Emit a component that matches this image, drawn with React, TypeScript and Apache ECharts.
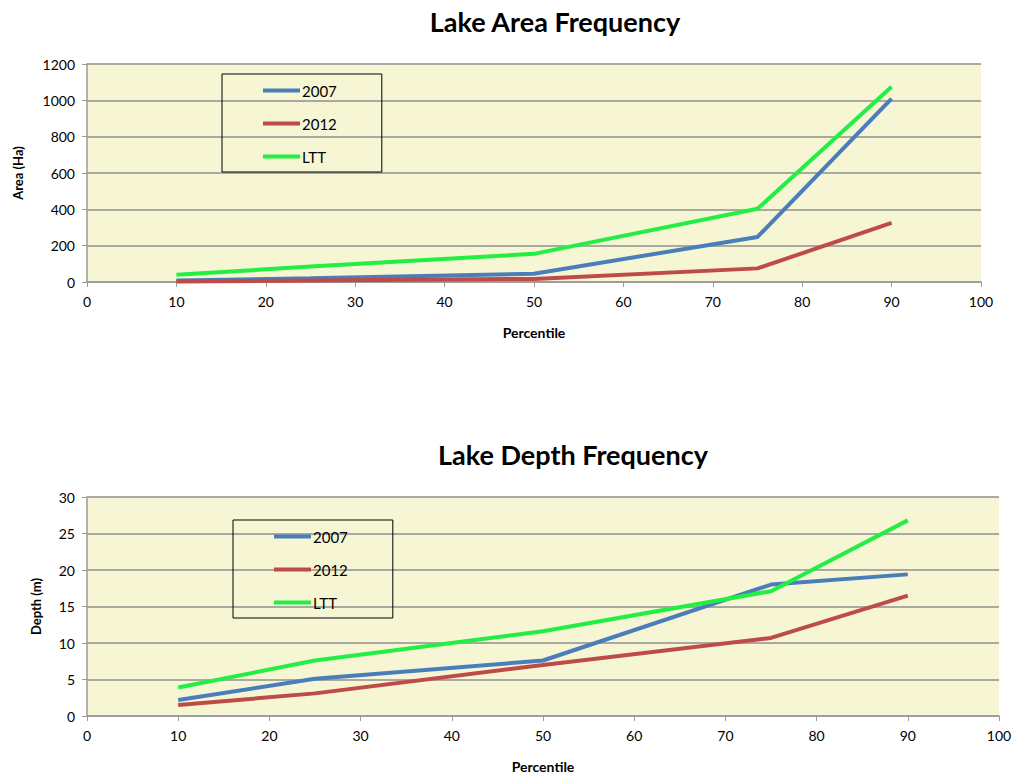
import React, { useEffect, useRef } from "react";
import * as echarts from "echarts";

const percentiles = [10, 25, 50, 75, 90];
const seriesNames = ["2007", "2012", "LTT"];
const area2007 = [8, 20, 45, 248, 1009];
const area2012 = [3, 8, 17, 75, 325];
const areaLTT = [40, 85, 155, 403, 1075];
const depth2007 = [2.2, 5.1, 7.6, 18.0, 19.4];
const depth2012 = [1.5, 3.1, 7.0, 10.7, 16.5];
const depthLTT = [3.9, 7.6, 11.6, 17.1, 26.8];
const xTicks = { min: 0, max: 100, interval: 10 };
const areaTicks = { min: 0, max: 1200, interval: 200 };
const depthTicks = { min: 0, max: 30, interval: 5 };

const colors = ["#4a7ebb", "#be4b48", "#22ee44"];
const FONT = "Lato";

const pairs = (vals: number[]) => percentiles.map((p, i) => [p, vals[i]]);

export default function App() {
  const ref = useRef<HTMLDivElement>(null);
  useEffect(() => {
    if (!ref.current) return;
    const chart = echarts.init(ref.current, undefined, { renderer: "svg" });
    const gridStyle = {
      show: true,
      backgroundColor: "#f6f6d4",
      borderWidth: 0,
      containLabel: false,
    };
    const xAxisBase = (gridIndex: number) => ({
      type: "value",
      gridIndex,
      ...xTicks,
      name: "Percentile",
      nameLocation: "middle",
      nameGap: 43,
      nameTextStyle: { fontFamily: FONT, fontWeight: "bold", fontSize: 14, color: "#000" },
      axisLine: { show: true, onZero: false, lineStyle: { color: "#9a9a9a", width: 1.5 } },
      axisTick: { show: true, inside: false, length: 5, lineStyle: { color: "#9a9a9a" } },
      axisLabel: { fontFamily: FONT, fontSize: 14, color: "#000", margin: 12 },
      splitLine: { show: false },
    });
    const yAxisBase = (gridIndex: number, ticks: any, name: string, gap: number) => ({
      type: "value",
      gridIndex,
      ...ticks,
      name,
      nameLocation: "middle",
      nameGap: gap,
      nameRotate: 90,
      nameTextStyle: { fontFamily: FONT, fontWeight: "bold", fontSize: 13, color: "#000" },
      axisLine: { show: true, lineStyle: { color: "#9a9a9a", width: 1.5 } },
      axisTick: { show: true, inside: false, length: 5, lineStyle: { color: "#9a9a9a" } },
      axisLabel: {
        fontFamily: FONT,
        fontSize: 14,
        color: "#000",
        margin: 12,
        formatter: (v: number) => String(v),
      },
      splitLine: { show: true, lineStyle: { color: "#8f8f8f", width: 1.5 } },
    });
    const legendBase = (left: number, top: number, padding: number[]) => ({
      orient: "vertical",
      left,
      top,
      data: seriesNames,
      icon: "rect",
      itemWidth: 37,
      itemHeight: 4,
      itemGap: 18,
      padding,
      borderColor: "#000",
      borderWidth: 1,
      textStyle: { fontFamily: FONT, fontSize: 15, color: "#000", padding: [0, 0, 0, -3] },
    });
    const mkSeries = (name: string, data: number[], idx: number) => ({
      type: "line",
      name,
      xAxisIndex: idx,
      yAxisIndex: idx,
      data: pairs(data),
      symbol: "none",
      lineStyle: { width: 4, color: colors[seriesNames.indexOf(name)] },
      itemStyle: { color: colors[seriesNames.indexOf(name)] },
    });
    chart.setOption({
      animation: false,
      color: colors,
      title: [
        {
          text: "Lake Area Frequency",
          left: 550,
          textAlign: "center",
          top: 3,
          textStyle: { fontFamily: FONT, fontWeight: "bold", fontSize: 27, color: "#000" },
        },
        {
          text: "Lake Depth Frequency",
          left: 568,
          textAlign: "center",
          top: 436,
          textStyle: { fontFamily: FONT, fontWeight: "bold", fontSize: 27, color: "#000" },
        },
      ],
      legend: [
        legendBase(222, 74, [9, 45, 8, 41]),
        legendBase(233, 520, [9, 45, 8, 41]),
      ],
      grid: [
        { ...gridStyle, left: 87, top: 64, width: 894, height: 218 },
        { ...gridStyle, left: 87, top: 497, width: 912, height: 219 },
      ],
      xAxis: [xAxisBase(0), xAxisBase(1)],
      yAxis: [
        yAxisBase(0, areaTicks, "Area (Ha)", 63),
        yAxisBase(1, depthTicks, "Depth (m)", 45),
      ],
      series: [
        mkSeries("2007", area2007, 0),
        mkSeries("2012", area2012, 0),
        mkSeries("LTT", areaLTT, 0),
        mkSeries("2007", depth2007, 1),
        mkSeries("2012", depth2012, 1),
        mkSeries("LTT", depthLTT, 1),
      ],
    });
    return () => chart.dispose();
  }, []);
  return (
    <div
      ref={ref}
      style={{ position: "absolute", left: 0, top: 0, width: 1018, height: 777 }}
    />
  );
}
